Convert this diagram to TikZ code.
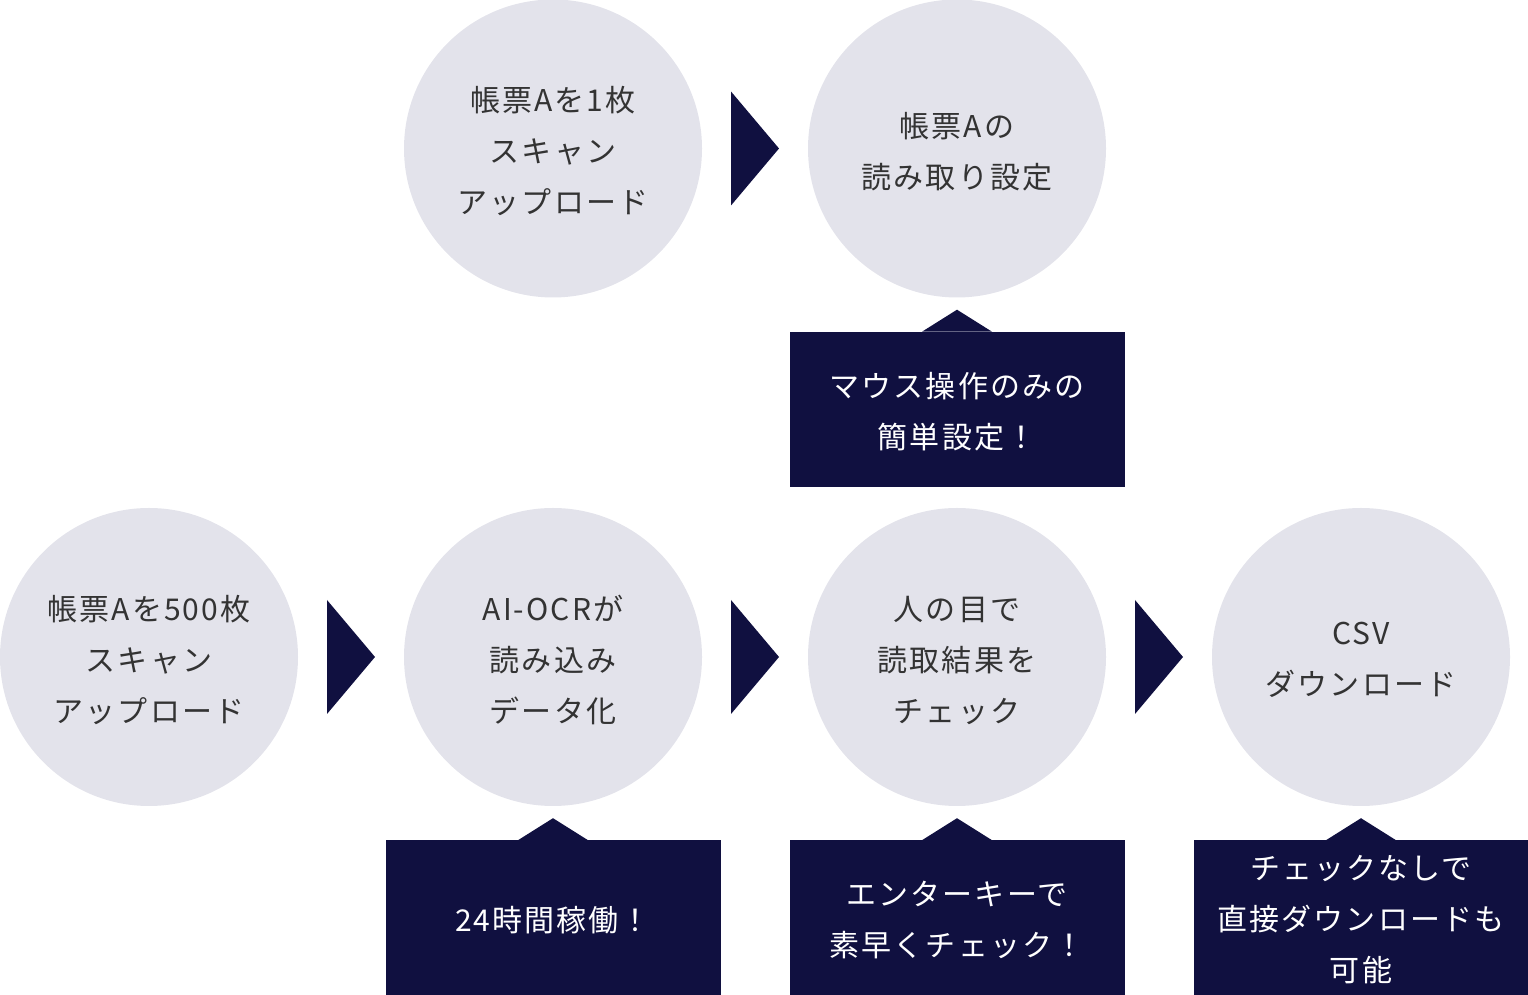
\documentclass[tikz,border=0pt]{standalone}
\usepackage{fontspec}
\usepackage{tikz}
\usetikzlibrary{positioning,calc}
\newfontfamily\jpfont{Noto Sans CJK JP}[LetterSpace=7]
\definecolor{kreisgrau}{HTML}{E3E3EB}
\definecolor{navy}{HTML}{101040}
\definecolor{textgrau}{HTML}{333333}

\begin{document}
\begin{tikzpicture}[x=1pt, y=1pt,
			schritt/.style={circle, fill=kreisgrau, minimum size=298pt, inner sep=0pt},
			hinweis/.style={rectangle, fill=navy, minimum width=335pt, minimum height=155pt, inner sep=0pt},
			dunkel/.style={text=textgrau, align=center, yshift=-3pt},
			hell/.style={text=white, align=center, yshift=-2pt},
			font=\jpfont\fontsize{30}{51}\selectfont]
			% Bildbereich
			\useasboundingbox (0,0) rectangle (1528,995);
			% Kreise oben
			\node[schritt, label={[dunkel]center:帳票Aを1枚\\スキャン\\アップロード}] (a1) at (553,846.5) {};
			\node[schritt, label={[dunkel]center:帳票Aの\\読み取り設定}] (a2) at (957,846.5) {};
			% Kreise unten
			\node[schritt, label={[dunkel]center:帳票Aを500枚\\スキャン\\アップロード}] (b1) at (149,338) {};
			\node[schritt, label={[dunkel]center:AI-OCRが\\読み込み\\データ化}] (b2) at (553,338) {};
			\node[schritt, label={[dunkel]center:人の目で\\読取結果を\\チェック}] (b3) at (957,338) {};
			\node[schritt, label={[dunkel]center:CSV\\ダウンロード}] (b4) at (1361,338) {};
			% Pfeile
			\foreach \a/\b in {a1/a2,b1/b2,b2/b3,b3/b4}
				\fill[navy] ($(\a)!0.5!(\b)$) ++(-24pt,-57pt) -- ++(48pt,57pt) -- ++(-48pt,57pt) -- cycle;
			% Hinweise
			\node[hinweis, below=34pt of a2, label={[hell]center:マウス操作のみの\\簡単設定！}] (h1) {};
			\node[hinweis, below=34pt of b2, label={[hell]center:24時間稼働！}] (h2) {};
			\node[hinweis, below=34pt of b3, label={[hell]center:エンターキーで\\素早くチェック！}] (h3) {};
			\node[hinweis, below=34pt of b4, label={[hell]center:チェックなしで\\直接ダウンロードも\\可能}] (h4) {};
			% Spitzen der Hinweise
			\foreach \h in {h1,h2,h3,h4}
				\fill[navy] ([xshift=-35pt]\h.north) -- ([yshift=22pt]\h.north) -- ([xshift=35pt]\h.north) -- cycle;
		\end{tikzpicture}
\end{document}
